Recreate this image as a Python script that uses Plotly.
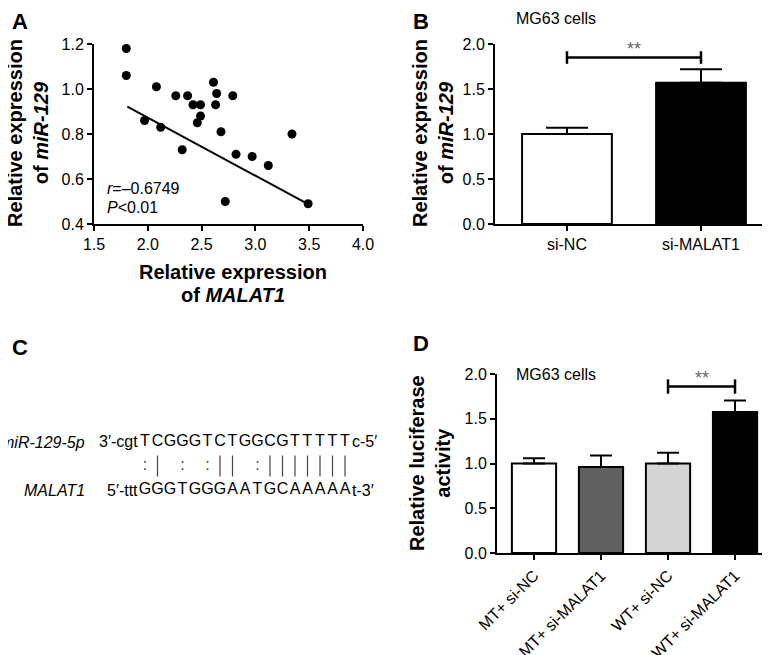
import plotly.graph_objects as go

# panel A - MALAT1 vs miR-129 in tissue samples
malat1 = [1.80, 1.80, 1.97, 2.08, 2.12, 2.26, 2.32, 2.37, 2.42, 2.49, 2.49, 2.46,
          2.61, 2.64, 2.63, 2.68, 2.72, 2.79, 2.82, 2.97, 3.12, 3.34, 3.49]
mir129 = [1.18, 1.06, 0.86, 1.01, 0.83, 0.97, 0.73, 0.97, 0.93, 0.93, 0.88, 0.85,
          1.03, 0.98, 0.93, 0.81, 0.50, 0.97, 0.71, 0.70, 0.66, 0.80, 0.49]
fit_x = [1.81, 3.49]
fit_y = [0.922, 0.488]

# panel B - miR-129 after knockdown
b_groups = ["si-NC", "si-MALAT1"]
b_mean = [1.0, 1.57]
b_err = [0.07, 0.15]

# panel C - binding site
mir_left, mir_core, mir_right = "3′-cgt", "TCGGGTCTGGCGTTTTT", "c-5′"
mal_left, mal_core, mal_right = "5′-ttt", "GGGTGGGAATGCAAAAA", "t-3′"
pairs = ":| : :|| :|||||||"

# panel D - luciferase
d_groups = ["MT+ si-NC", "MT+ si-MALAT1", "WT+ si-NC", "WT+ si-MALAT1"]
d_mean = [1.0, 0.96, 1.0, 1.575]
d_err = [0.06, 0.13, 0.12, 0.13]
d_colors = ["white", "#606060", "#d4d4d4", "black"]

# the page body has an 8px margin, so the figure starts at (8, 8) of the window
OFF = 8
W, H = 770 - OFF, 655 - OFF
def px(x):
    return (x - OFF) / W
def py(y):
    return 1 - (y - OFF) / H

fig = go.Figure()

# A
fig.add_trace(go.Scatter(x=malat1, y=mir129, mode="markers",
                         marker=dict(size=9, color="black"), xaxis="x", yaxis="y"))
fig.add_trace(go.Scatter(x=fit_x, y=fit_y, mode="lines",
                         line=dict(color="black", width=2), xaxis="x", yaxis="y"))

# B
fig.add_trace(go.Bar(x=b_groups, y=b_mean, width=0.67,
                     marker=dict(color=["white", "black"], line=dict(color="black", width=2)),
                     error_y=dict(type="data", array=b_err, arrayminus=[0, 0], symmetric=False,
                                  color="black", thickness=2, width=21),
                     xaxis="x2", yaxis="y2"))
sig_b = 1.85
fig.add_trace(go.Scatter(x=[b_groups[0], b_groups[0], None, b_groups[0], b_groups[1], None, b_groups[1], b_groups[1]],
                         y=[sig_b - 0.07, sig_b + 0.07, None, sig_b, sig_b, None, sig_b - 0.07, sig_b + 0.07],
                         mode="lines", line=dict(color="black", width=2.5),
                         xaxis="x2", yaxis="y2", cliponaxis=False))

# C
n = len(mir_core)
idx = list(range(1, n + 1))
fig.add_trace(go.Scatter(x=idx, y=[0] * n, text=list(mir_core), mode="text",
                         textfont=dict(size=16, color="black"), xaxis="x3", yaxis="y3"))
fig.add_trace(go.Scatter(x=idx, y=[2] * n, text=list(mal_core), mode="text",
                         textfont=dict(size=16, color="black"), xaxis="x3", yaxis="y3"))
bar_x = [i + 1 for i, c in enumerate(pairs) if c == "|"]
dot_x = [i + 1 for i, c in enumerate(pairs) if c == ":"]
fig.add_trace(go.Scatter(x=bar_x, y=[1] * len(bar_x), mode="markers",
                         marker=dict(symbol="line-ns-open", size=15, color="#444444",
                                     line=dict(color="#444444", width=1.2)),
                         xaxis="x3", yaxis="y3"))
fig.add_trace(go.Scatter(x=dot_x, y=[1] * len(dot_x), text=[":"] * len(dot_x), mode="text",
                         textfont=dict(size=16, color="#444444"), xaxis="x3", yaxis="y3"))

# D
fig.add_trace(go.Bar(x=d_groups, y=d_mean, width=0.66,
                     marker=dict(color=d_colors, line=dict(color="black", width=2)),
                     error_y=dict(type="data", array=d_err, arrayminus=[0] * 4, symmetric=False,
                                  color="black", thickness=2, width=11),
                     xaxis="x4", yaxis="y4"))
sig_d = 1.86
fig.add_trace(go.Scatter(x=[d_groups[2], d_groups[2], None, d_groups[2], d_groups[3], None, d_groups[3], d_groups[3]],
                         y=[sig_d - 0.08, sig_d + 0.08, None, sig_d, sig_d, None, sig_d - 0.08, sig_d + 0.08],
                         mode="lines", line=dict(color="black", width=2.5),
                         xaxis="x4", yaxis="y4", cliponaxis=False))

ax = dict(showline=True, linecolor="black", linewidth=2, ticks="outside", ticklen=5,
          tickwidth=2, tickcolor="black", showgrid=False, zeroline=False, automargin=False,
          tickfont=dict(size=16, color="black"))

fig.update_layout(
    template="none",
    width=W, height=H, margin=dict(l=0, r=0, t=0, b=0, pad=0),
    plot_bgcolor="white", paper_bgcolor="white", showlegend=False,
    font=dict(family="Arial, Liberation Sans, sans-serif", size=16, color="black"),
    xaxis=dict(ax, domain=[px(94), px(363)], range=[1.5, 4.0], dtick=0.5, tickformat=".1f", anchor="y"),
    yaxis=dict(ax, domain=[py(224), py(44)], range=[0.4, 1.2], dtick=0.2, tickformat=".1f", anchor="x"),
    xaxis2=dict(ax, domain=[px(495), 1.0], range=[-0.537, 1.515], type="category", anchor="y2"),
    yaxis2=dict(ax, domain=[py(224), py(44)], range=[0, 2.0], dtick=0.5, tickformat=".1f", anchor="x2"),
    xaxis3=dict(visible=False, domain=[0, px(400)], range=[-10.6 + OFF / 12.5, 21.4], anchor="y3"),
    yaxis3=dict(visible=False, domain=[py(520), py(410)], range=[3.25, -1.333], anchor="x3"),
    xaxis4=dict(ax, domain=[px(497), 1.0], range=[-0.552, 3.522], type="category",
                tickangle=-45, anchor="y4"),
    yaxis4=dict(ax, domain=[py(553), py(374)], range=[0, 2.0], dtick=0.5, tickformat=".1f", anchor="x4"),
)

ann = []
# letters nudged inward a little so the 8px page margin does not clip them
for letter, x, y in [("A", 20, 21), ("B", 421, 21), ("C", 20, 347), ("D", 421, 343)]:
    ann.append(dict(text="<b>%s</b>" % letter, x=px(x), y=py(y), font=dict(size=22)))
titles = [
    dict(text="<b>Relative expression<br>of <i>miR-129</i></b>", x=px(28), y=py(133), textangle=-90),
    dict(text="<b>Relative expression</b>", x=px(233), y=py(272)),
    dict(text="<b>of <i>MALAT1</i></b>", x=px(233), y=py(295)),
    dict(text="<b>Relative expression<br>of <i>miR-129</i></b>", x=px(433), y=py(133), textangle=-90),
    dict(text="<b>Relative luciferase<br>activity</b>", x=px(430), y=py(463), textangle=-90),
]
for a in titles:
    a.update(font=dict(size=20))
labels = [
    dict(text="<i>r</i>=–0.6749", x=px(105), y=py(188), xanchor="left"),
    dict(text="<i>P</i>&lt;0.01", x=px(105), y=py(207), xanchor="left"),
    dict(text="MG63 cells", x=px(556), y=py(19)),
    dict(text="MG63 cells", x=px(556), y=py(374)),
    dict(text="<i>miR-129-5p</i>", x=px(87), y=py(442), xanchor="right"),
    dict(text="<i>MALAT1</i>", x=px(87), y=py(490), xanchor="right"),
]
for a in labels:
    a.update(font=dict(size=16))
for a in ann + titles + labels:
    a.setdefault("xanchor", "center")
    a.update(xref="paper", yref="paper", yanchor="middle", showarrow=False)
ends = [
    dict(text=mir_left, x=0.5, y=0, xanchor="right"),
    dict(text=mir_right, x=n + 0.5, y=0, xanchor="left"),
    dict(text=mal_left, x=0.5, y=2, xanchor="right"),
    dict(text=mal_right, x=n + 0.5, y=2, xanchor="left"),
]
for a in ends:
    a.update(xref="x3", yref="y3", yanchor="middle", showarrow=False, font=dict(size=16), borderpad=0)
stars = [
    dict(text="**", x=0.5, y=1.95, xref="x2", yref="y2"),
    dict(text="**", x=2.5, y=1.96, xref="x4", yref="y4"),
]
for a in stars:
    a.update(showarrow=False, xanchor="center", yanchor="middle", font=dict(size=18, color="#666666"))
fig.update_layout(annotations=ann + titles + labels + ends + stars)

fig.write_html("out.html")
